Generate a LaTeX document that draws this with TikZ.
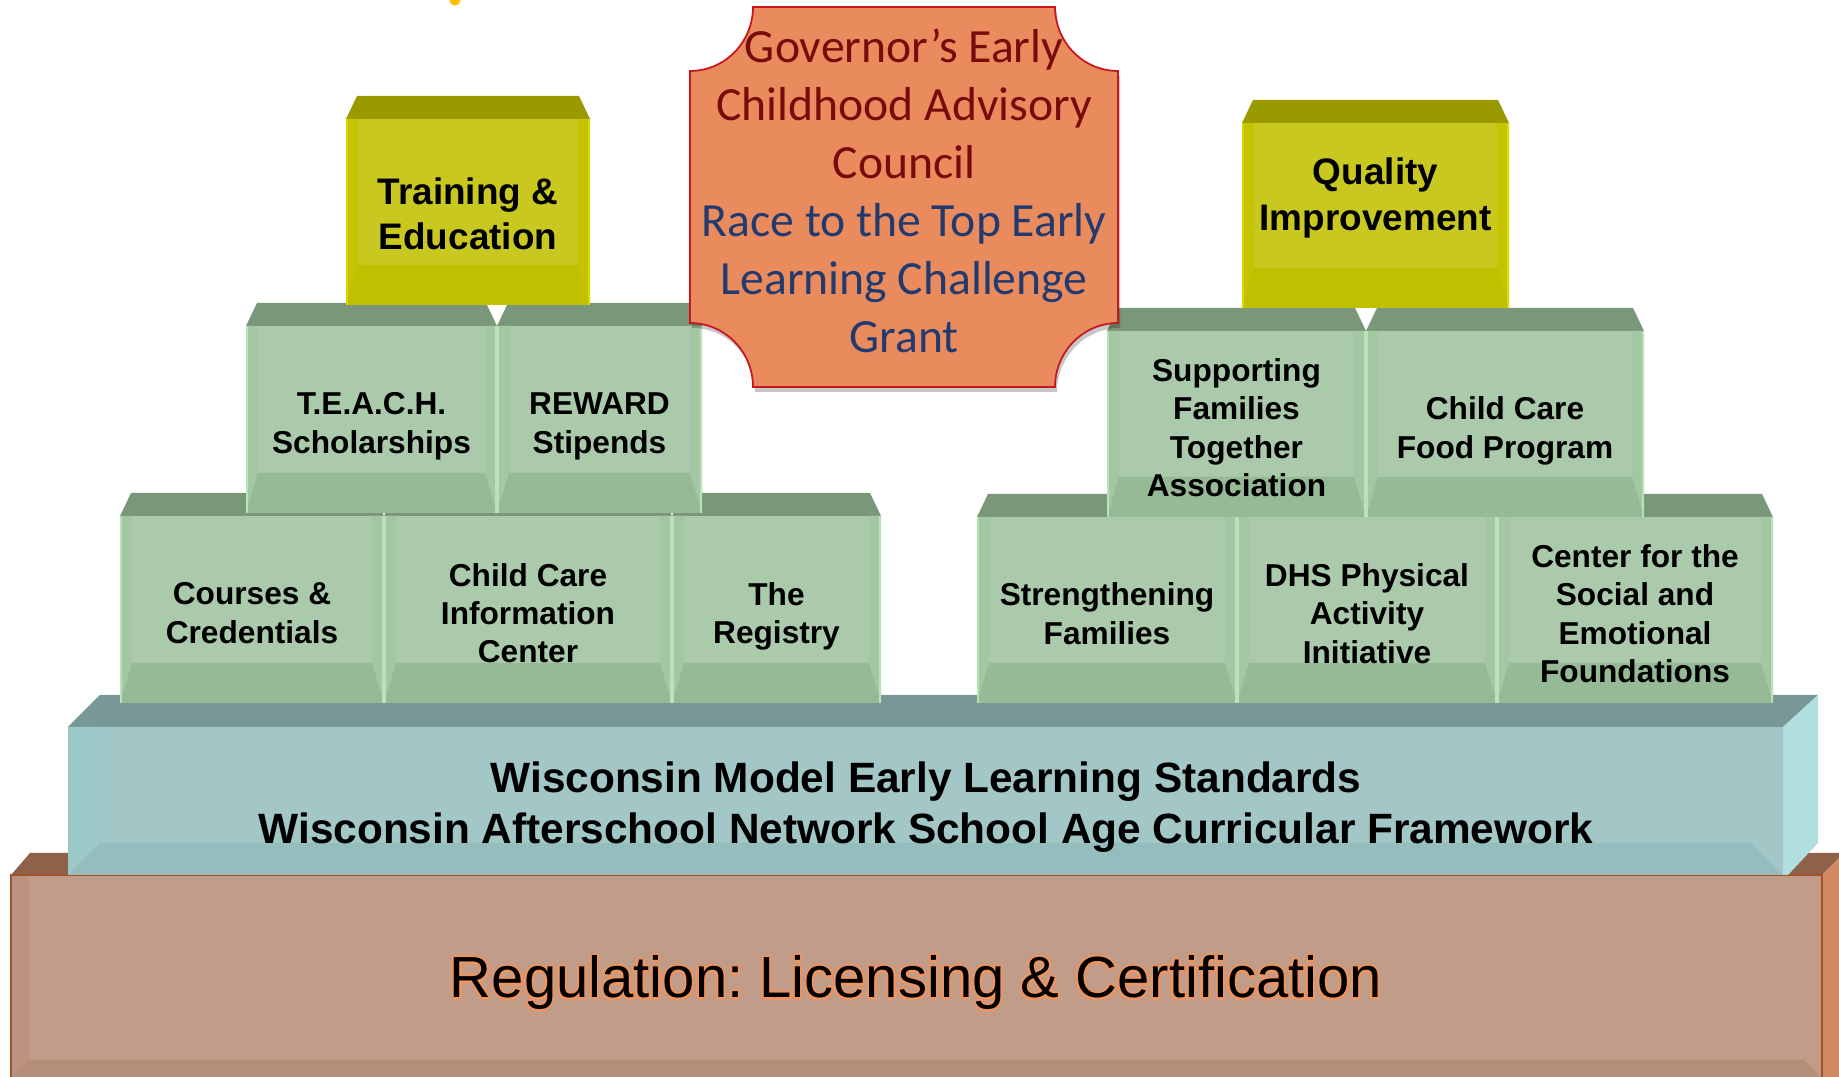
\documentclass[tikz,border=0pt]{standalone}
\usepackage{fontspec}
\setmainfont{Liberation Sans}
\newfontfamily\calibri{Carlito}
\usetikzlibrary{calc}
\frenchspacing

\definecolor{cGrTop}{HTML}{7A977A}
\definecolor{cGrFront}{HTML}{ABCAAB}
\definecolor{cGrSide}{HTML}{A3C6A3}
\definecolor{cGrLow}{HTML}{97BA96}
\definecolor{cGrEdge}{HTML}{B8E2B8}
\definecolor{cYlTop}{HTML}{999900}
\definecolor{cYlFront}{HTML}{C9C821}
\definecolor{cYlSide}{HTML}{C4C400}
\definecolor{cYlLow}{HTML}{C0BF00}
\definecolor{cYlEdge}{HTML}{D9D900}
\definecolor{cBlTop}{HTML}{789797}
\definecolor{cBlFront}{HTML}{A3C6C6}
\definecolor{cBlSide}{HTML}{9CC8C8}
\definecolor{cBlLow}{HTML}{95BDBD}
\definecolor{cBlRight}{HTML}{B1DEDE}
\definecolor{cBrTop}{HTML}{8E614A}
\definecolor{cBrFront}{HTML}{C09C89}
\definecolor{cBrSide}{HTML}{BB937E}
\definecolor{cBrLow}{HTML}{B48E79}
\definecolor{cBrRight}{HTML}{D18A62}
\definecolor{cBrEdge}{HTML}{A4502A}
\definecolor{cRegLine}{HTML}{EC9462}
\definecolor{cCnFill}{HTML}{EA8B5E}
\definecolor{cCnLine}{HTML}{C8161E}
\definecolor{cCnRed}{HTML}{770C0C}
\definecolor{cCnBlue}{HTML}{233A6E}
\definecolor{cDot}{HTML}{FFC000}

\tikzstyle{grtop}=[fill=cGrTop]
\tikzstyle{grfront}=[fill=cGrFront]
\tikzstyle{grside}=[fill=cGrSide]
\tikzstyle{grlow}=[fill=cGrLow]
\tikzstyle{gredge}=[draw=cGrEdge,line width=0.5pt]
\tikzstyle{grtext}=[align=center,text depth=0pt,yshift=-1pt,font=\bfseries\fontsize{9}{10.9}\selectfont]
\tikzstyle{yltop}=[fill=cYlTop]
\tikzstyle{ylfront}=[fill=cYlFront]
\tikzstyle{ylside}=[fill=cYlSide]
\tikzstyle{yllow}=[fill=cYlLow]
\tikzstyle{yledge}=[draw=cYlEdge,line width=0.5pt]
\tikzstyle{yltext}=[align=center,font=\bfseries\fontsize{10.5}{13}\selectfont]

% palette, name, left, right, front top, bottom, text
\newcommand{\block}[8][]{%
  \fill[#2top] (#4,#6) -- (#4+11,#6-23) -- (#5-11,#6-23) -- (#5,#6) -- cycle;
  \fill[#2front] (#4,#6) rectangle (#5,#7);
  \fill[#2side] (#4,#6) -- (#4+12,#6) -- (#4+12,#7-40) -- (#4,#7) -- cycle;
  \fill[#2side] (#5,#6) -- (#5-12,#6) -- (#5-12,#7-40) -- (#5,#7) -- cycle;
  \fill[#2low] (#4,#7) -- (#4+12,#7-40) -- (#5-12,#7-40) -- (#5,#7) -- cycle;
  \draw[#2edge] (#4+1,#6) -- (#4+1,#7) (#5-1,#6) -- (#5-1,#7);
  \node[#2text,#1] (#3) at ({(#4+#5)/2},{(#6+#7)/2}) {#8};
}
\newcommand{\cnpath}{(753,7) -- (1055,7) .. controls (1055,42) and (1083,71) .. (1118,71)
  -- (1118,323) .. controls (1083,323) and (1055,352) .. (1055,387)
  -- (753,387) .. controls (753,352) and (725,323) .. (690,323)
  -- (690,71) .. controls (725,71) and (753,42) .. (753,7) -- cycle}

\begin{document}
\begin{tikzpicture}[
    x=0.01cm,y=-0.01cm,
    regtext/.style={font=\fontsize{16.5}{20}\selectfont},
    stdtext/.style={align=center,font=\bfseries\fontsize{12.05}{14.7}\selectfont},
    cntext/.style={align=center,font=\calibri\fontsize{13.55}{16.5}\selectfont}
    ]
    \useasboundingbox (0,0) rectangle (1839,1077);
    \fill[cDot] (455,0) circle[radius=1.6pt];

    % regulation base
    \fill[cBrTop] (11,875) -- (30,853) -- (1839,853) -- (1839,858) -- (1822,875) -- cycle;
    \fill[cBrRight] (1822,875) -- (1839,858) -- (1839,1085) -- (1822,1085) -- cycle;
    \fill[cBrFront] (11,875) rectangle (1822,1085);
    \fill[cBrSide] (11,875) -- (29,875) -- (29,1060) -- (11,1078) -- cycle;
    \fill[cBrLow] (11,1078) -- (29,1060) -- (1804,1060) -- (1822,1078) -- (1822,1085) -- (11,1085) -- cycle;
    \draw[cBrEdge,line width=0.7pt] (11,1085) -- (11,875) -- (1822,875) -- (1822,1085);
    \coordinate (regc) at (916,983);
    \foreach \a in {0,30,...,330}
      \node[regtext,text=cRegLine] at ([shift={(\a:0.6pt)}]regc) {Regulation: Licensing \& Certification};
    \node[regtext] (reg) at (regc) {Regulation: Licensing \& Certification};

    % standards layer
    \fill[cBlTop] (68,727) -- (100,695) -- (1818,695) -- (1783,727) -- cycle;
    \fill[cBlFront] (68,727) rectangle (1783,875);
    \fill[cBlSide] (68,727) -- (100,727) -- (100,843) -- (68,875) -- cycle;
    \fill[cBlLow] (68,875) -- (100,843) -- (1751,843) -- (1783,875) -- cycle;
    \fill[cBlRight] (1783,727) -- (1818,695) -- (1818,843) -- (1788,875) -- (1783,875) -- cycle;
    \node[stdtext] (std) at (926,807) {Wisconsin Model Early Learning Standards\\Wisconsin Afterschool Network School Age Curricular Framework};

    % bottom row
    \block{gr}{courses}{120}{384}{516}{703}{Courses \&\\Credentials}
    \block{gr}{ccic}{384}{672}{516}{703}{Child Care\\Information\\Center}
    \block{gr}{registry}{672}{881}{516}{703}{The\\Registry}
    \block{gr}{strength}{977}{1237}{517}{703}{Strengthening\\Families}
    \block{gr}{dhs}{1237}{1497}{517}{703}{DHS Physical\\Activity\\Initiative}
    \block{gr}{csefel}{1497}{1773}{517}{703}{Center for the\\Social and\\Emotional\\Foundations}

    % second row
    \block{gr}{teach}{246}{497}{326}{513}{T.E.A.C.H.\\Scholarships}
    \block{gr}{reward}{497}{702}{326}{513}{REWARD\\Stipends}
    \block{gr}{sfta}{1107}{1366}{331}{517}{Supporting\\Families\\Together\\Association}
    \block{gr}{cacfp}{1366}{1644}{331}{517}{Child Care\\Food Program}

    % top row
    \block[yshift=-0.5pt]{yl}{training}{346}{590}{119}{305}{Training \&\\Education}
    \block[yshift=5pt]{yl}{quality}{1242}{1509}{123}{308}{Quality\\Improvement}

    % council
    \fill[black,opacity=0.22,shift={(2,5)}] \cnpath;
    \filldraw[fill=cCnFill,draw=cCnLine,line width=0.5pt] \cnpath;
    \node[cntext] (council) at (904,191) {\textcolor{cCnRed}{Governor’s Early}\\
      \textcolor{cCnRed}{Childhood Advisory}\\\textcolor{cCnRed}{Council}\\
      \textcolor{cCnBlue}{Race to the Top Early}\\\textcolor{cCnBlue}{Learning Challenge}\\
      \textcolor{cCnBlue}{Grant}};
\end{tikzpicture}
\end{document}
